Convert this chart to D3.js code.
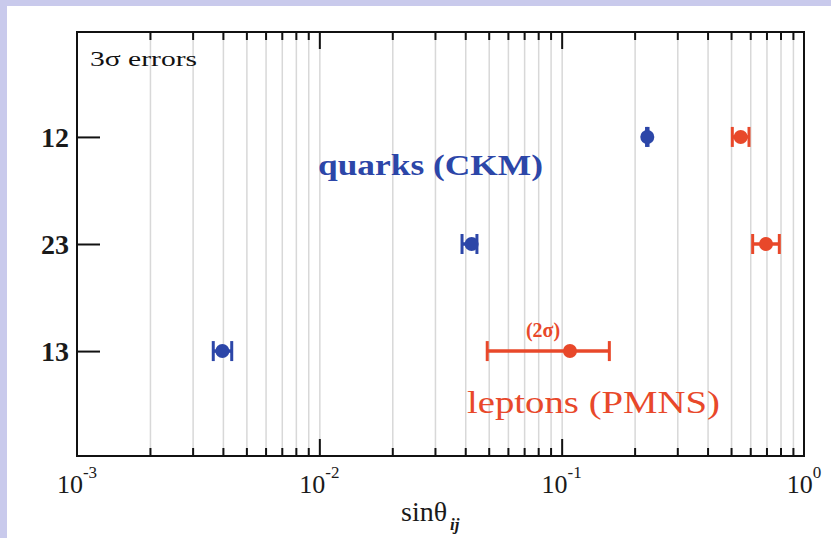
<!DOCTYPE html>
<html>
<head>
<meta charset="utf-8">
<title>Mixing angles</title>
<script src="https://cdn.jsdelivr.net/npm/d3@7"></script>
<style>
    body { margin: 0; background: #c9caec; }
    svg { display: block; }
    text { font-family: "Liberation Serif", "Times New Roman", serif; }
</style>
</head>
<body>
<svg></svg>
<script>
    // data
    var angles = ["12", "23", "13"];
    var quarkVal = [0.2256, 0.0425, 0.00398];
    var quarkLo = [0.2240, 0.0388, 0.00365];
    var quarkHi = [0.2272, 0.0447, 0.00435];
    var leptonVal = [0.548, 0.697, 0.1082];
    var leptonLo = [0.506, 0.614, 0.0493];
    var leptonHi = [0.593, 0.791, 0.1573];
    var majorTicks = [1e-3, 1e-2, 1e-1, 1];
    var tickExp = ["-3", "-2", "-1", "0"];

    var w = 831, h = 538;
    // plot box (note: "top" is taken by window.top)
    var pLeft = 77, pRight = 804, pTop = 32, pBottom = 456;
    var blue = "#2c46a8", red = "#e8482a";

    var minorTicks = [];
    [1e-3, 1e-2, 1e-1].forEach(function(d) {
        for (var k = 2; k <= 9; k++) minorTicks.push(d * k);
    });

    var svg = d3.select("svg").attr("width", w).attr("height", h);

    // white panel on the lavender background
    svg.append("rect").attr("x", 7).attr("y", 6)
        .attr("width", w - 7).attr("height", h - 6).attr("fill", "white");

    var x = d3.scaleLog().domain([1e-3, 1]).range([pLeft, pRight]);
    var y = d3.scalePoint().domain(angles).range([pTop, pBottom]).padding(0.98);

    // grid lines
    svg.append("g")
        .attr("transform", "translate(0," + pBottom + ")")
        .call(d3.axisBottom(x).tickValues(minorTicks.concat([1e-2, 1e-1]))
            .tickSize(-(pBottom - pTop)).tickFormat(""))
        .call(function(g) {
            g.select(".domain").remove();
            g.selectAll("line").attr("stroke", "#d8d8d8").attr("stroke-width", 1.5);
        });

    // minor + major ticks, bottom and top
    function ticks(axis, pos, vals, size) {
        svg.append("g")
            .attr("transform", "translate(0," + pos + ")")
            .call(axis(x).tickValues(vals).tickSize(-size).tickFormat(""))
            .call(function(g) {
                g.select(".domain").remove();
                g.selectAll("line").attr("stroke", "#111").attr("stroke-width", 2);
            });
    }
    ticks(d3.axisBottom, pBottom, minorTicks, 8);
    ticks(d3.axisBottom, pBottom, majorTicks.slice(1, 3), 17);
    ticks(d3.axisTop, pTop, minorTicks, 8);
    ticks(d3.axisTop, pTop, majorTicks.slice(1, 3), 17);

    // left axis with angle labels
    svg.append("g")
        .attr("transform", "translate(" + pLeft + ",0)")
        .call(d3.axisLeft(y).tickSize(-23).tickPadding(8))
        .call(function(g) {
            g.select(".domain").remove();
            g.selectAll("line").attr("stroke", "#111").attr("stroke-width", 2);
            g.selectAll("text").attr("font-size", 28).attr("font-weight", "bold")
                .attr("fill", "#1a1a1a").attr("font-family", "Liberation Serif, serif")
                .attr("dy", "0.34em");
        });

    // frame
    svg.append("rect").attr("x", pLeft).attr("y", pTop)
        .attr("width", pRight - pLeft).attr("height", pBottom - pTop)
        .attr("fill", "none").attr("stroke", "#111").attr("stroke-width", 2);

    // x tick labels 10^n
    var lab = svg.selectAll(".xlab").data(majorTicks).enter()
        .append("text").attr("class", "xlab")
        .attr("x", function(d) { return x(d); })
        .attr("y", 493)
        .attr("text-anchor", "middle")
        .attr("fill", "#1a1a1a");
    lab.append("tspan").attr("font-size", 26).text("10");
    lab.append("tspan").attr("font-size", 17).attr("dy", -15)
        .text(function(d, i) { return tickExp[i]; });

    // x axis title
    var title = svg.append("text").attr("x", 401).attr("y", 521).attr("fill", "#1a1a1a");
    title.append("tspan").attr("font-size", 28).text("sin\u03b8");
    title.append("tspan").attr("font-size", 17).attr("font-style", "italic")
        .attr("font-weight", "bold").attr("dx", 3).attr("dy", 9).text("ij");

    svg.append("text").attr("x", 90).attr("y", 66)
        .attr("font-size", 22).attr("fill", "#111")
        .attr("textLength", 107).attr("lengthAdjust", "spacingAndGlyphs")
        .text("3\u03c3 errors");

    // error bars
    function errorBars(val, lo, hi, color) {
        var g = svg.append("g");
        angles.forEach(function(a, i) {
            var yy = y(a);
            g.append("line").attr("x1", x(lo[i])).attr("x2", x(hi[i]))
                .attr("y1", yy).attr("y2", yy)
                .attr("stroke", color).attr("stroke-width", 3.5);
            [lo[i], hi[i]].forEach(function(v) {
                g.append("line").attr("x1", x(v)).attr("x2", x(v))
                    .attr("y1", yy - 10).attr("y2", yy + 10)
                    .attr("stroke", color).attr("stroke-width", 3);
            });
            g.append("circle").attr("cx", x(val[i])).attr("cy", yy)
                .attr("r", 7).attr("fill", color);
        });
    }
    errorBars(quarkVal, quarkLo, quarkHi, blue);
    errorBars(leptonVal, leptonLo, leptonHi, red);

    // labels
    svg.append("text").attr("x", 318).attr("y", 175)
        .attr("font-size", 30).attr("font-weight", "bold").attr("fill", blue)
        .attr("textLength", 225).attr("lengthAdjust", "spacingAndGlyphs")
        .text("quarks (CKM)");
    svg.append("text").attr("x", 467).attr("y", 413)
        .attr("font-size", 32).attr("fill", red)
        .attr("textLength", 253).attr("lengthAdjust", "spacingAndGlyphs")
        .text("leptons (PMNS)");
    svg.append("text").attr("x", 543).attr("y", 337)
        .attr("text-anchor", "middle")
        .attr("font-size", 20).attr("font-weight", "bold").attr("fill", red)
        .text("(2\u03c3)");
</script>
</body>
</html>
